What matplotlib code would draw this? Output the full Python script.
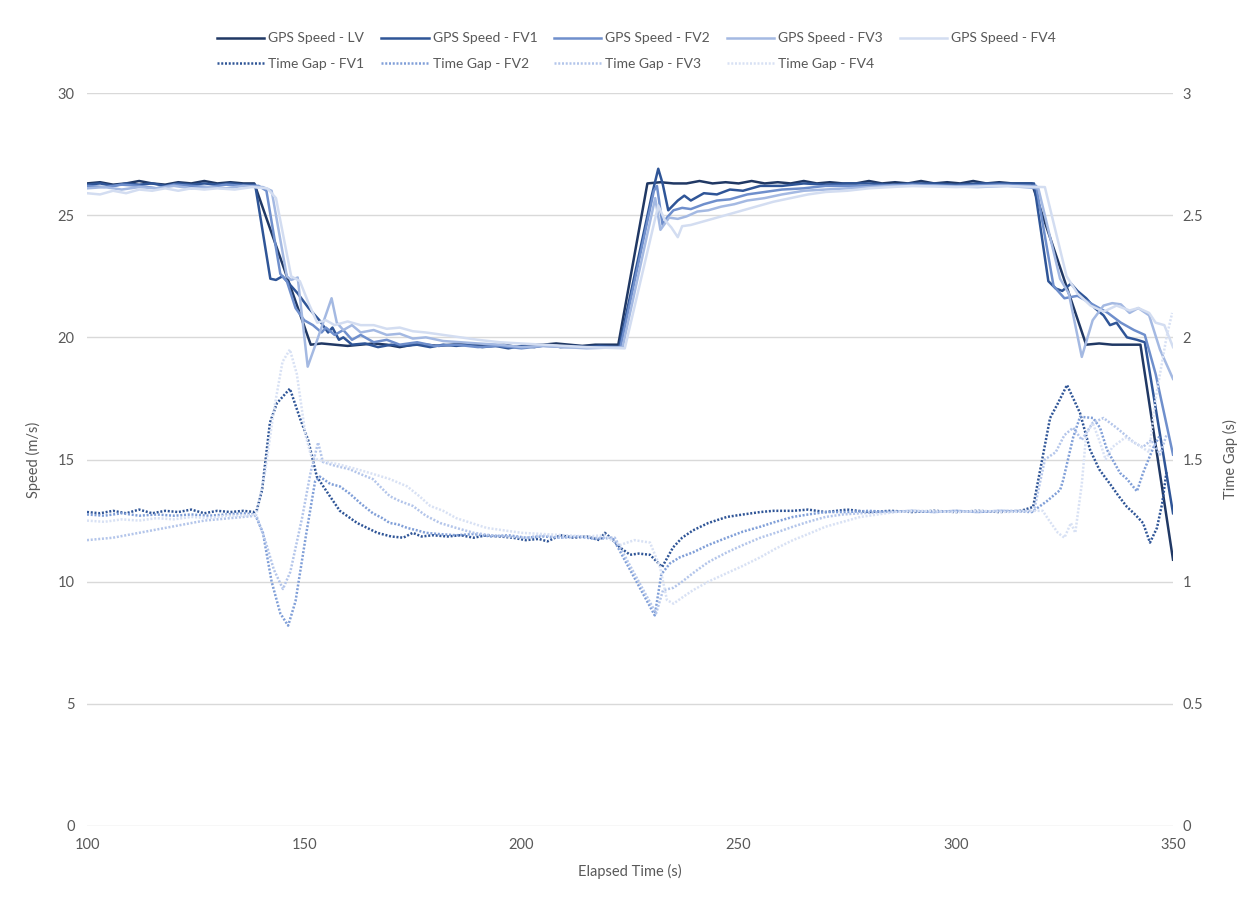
import matplotlib
matplotlib.use("Agg")
import matplotlib.pyplot as plt
from matplotlib.ticker import FuncFormatter, MultipleLocator

# Platoon run: GPS speed of the lead vehicle (LV) and four followers (FV1-FV4),
# plus the time gap each follower keeps to the vehicle ahead.
# Each series is a list of (elapsed time [s], value) samples.

speed_lv = [
    (100, 26.3), (103, 26.35), (106, 26.25), (109, 26.3), (112, 26.4), (115, 26.3), (118, 26.25),
    (121, 26.35), (124, 26.3), (127, 26.4), (130, 26.3), (133, 26.35), (136, 26.3), (138.5, 26.3),
    (151.5, 19.7), (154, 19.75), (157, 19.7), (160, 19.65), (163, 19.7), (166, 19.75), (169, 19.7),
    (172, 19.6), (175, 19.7), (178, 19.7), (181, 19.65), (184, 19.7), (187, 19.75), (190, 19.7),
    (193, 19.65), (196, 19.7), (199, 19.6), (202, 19.7), (205, 19.7), (208, 19.75), (211, 19.7),
    (214, 19.65), (217, 19.7), (220, 19.7), (222.3, 19.7), (229, 26.3), (232, 26.35), (235, 26.3),
    (238, 26.3), (241, 26.4), (244, 26.3), (247, 26.35), (250, 26.3), (253, 26.4), (256, 26.3),
    (259, 26.35), (262, 26.3), (265, 26.4), (268, 26.3), (271, 26.35), (274, 26.3), (277, 26.3),
    (280, 26.4), (283, 26.3), (286, 26.35), (289, 26.3), (292, 26.4), (295, 26.3), (298, 26.35),
    (301, 26.3), (304, 26.4), (307, 26.3), (310, 26.35), (313, 26.3), (316, 26.3), (317.5, 26.3),
    (330, 19.7), (333, 19.75), (336, 19.7), (339, 19.7), (342.5, 19.7), (350, 10.9),
]

speed_fv1 = [
    (100, 26.25), (103, 26.3), (106, 26.2), (109, 26.3), (112, 26.25), (115, 26.3), (118, 26.2),
    (121, 26.3), (124, 26.25), (127, 26.3), (130, 26.25), (133, 26.3), (136, 26.25), (138.7, 26.25),
    (142.2, 22.4), (143.5, 22.35), (145, 22.5), (148.5, 21.8), (151, 21.2), (153.5, 20.7),
    (155.5, 20.2), (156.5, 20.4), (158, 19.9), (159, 20.0), (161, 19.7), (164, 19.75), (167, 19.6),
    (170, 19.7), (173, 19.65), (176, 19.7), (179, 19.6), (182, 19.7), (185, 19.65), (188, 19.7),
    (191, 19.6), (194, 19.65), (197, 19.55), (200, 19.65), (203, 19.6), (206, 19.7), (209, 19.6),
    (212, 19.65), (215, 19.6), (218, 19.65), (222.5, 19.6), (230, 25.8), (231.5, 26.9),
    (232.5, 26.3), (233.8, 25.2), (236, 25.6), (237.5, 25.8), (239, 25.6), (242, 25.9),
    (245, 25.85), (248, 26.05), (251, 26.0), (255, 26.2), (260, 26.2), (265, 26.3), (270, 26.25),
    (275, 26.3), (280, 26.3), (285, 26.25), (290, 26.3), (295, 26.3), (300, 26.25), (305, 26.3),
    (310, 26.3), (315, 26.3), (318, 26.3), (321.3, 22.3), (323, 22.0), (324.5, 21.9),
    (326.5, 22.2), (328, 21.9), (330, 21.6), (332, 21.2), (334, 20.9), (335.5, 20.5), (337, 20.6),
    (339.4, 20.0), (341.7, 19.9), (343.5, 19.8), (350, 12.8),
]

speed_fv2 = [
    (100, 26.2), (104, 26.15), (108, 26.25), (112, 26.2), (116, 26.1), (120, 26.25), (124, 26.2),
    (128, 26.15), (132, 26.25), (136, 26.2), (139.5, 26.2), (141.3, 26.0), (144.5, 22.6),
    (146, 22.3), (148, 21.2), (150, 20.7), (152, 20.5), (154, 20.2), (155, 20.4), (157, 20.1),
    (159, 20.3), (161, 19.9), (163, 20.1), (166, 19.8), (169, 19.9), (172, 19.7), (176, 19.8),
    (180, 19.65), (185, 19.7), (190, 19.6), (195, 19.65), (200, 19.55), (205, 19.65), (210, 19.6),
    (215, 19.6), (222.8, 19.6), (230.5, 26.0), (231.2, 26.2), (232.5, 24.6), (233.5, 24.9),
    (235, 25.2), (237, 25.3), (239, 25.25), (242, 25.45), (245, 25.6), (248, 25.65), (252, 25.85),
    (256, 25.95), (260, 26.05), (265, 26.1), (270, 26.2), (275, 26.2), (280, 26.2), (290, 26.25),
    (300, 26.2), (310, 26.25), (318.5, 26.2), (322.5, 22.1), (325, 21.6), (328, 21.7),
    (331, 21.4), (333, 21.2), (335, 21.0), (338, 20.6), (341, 20.3), (343.5, 20.1), (346, 18.5),
    (350, 15.2),
]

speed_fv3 = [
    (100, 26.1), (104, 26.15), (108, 26.05), (112, 26.15), (116, 26.1), (120, 26.2), (124, 26.1),
    (128, 26.15), (132, 26.1), (136, 26.2), (140.5, 26.15), (142.5, 26.0), (146, 22.5),
    (147, 22.35), (148.5, 22.45), (150.8, 18.8), (153, 19.9), (156.3, 21.6), (157.5, 20.6),
    (159, 20.3), (161, 20.5), (163, 20.2), (166, 20.3), (169, 20.1), (172, 20.15), (175, 19.95),
    (178, 20.0), (182, 19.85), (186, 19.8), (190, 19.75), (195, 19.7), (200, 19.6), (205, 19.65),
    (210, 19.6), (215, 19.55), (223.3, 19.6), (230.8, 25.7), (232, 24.4), (234, 24.9),
    (236, 24.85), (238, 24.95), (240.5, 25.15), (243, 25.2), (246, 25.35), (249, 25.45),
    (252, 25.6), (256, 25.7), (260, 25.85), (265, 26.0), (270, 26.05), (275, 26.1), (280, 26.15),
    (285, 26.2), (295, 26.2), (305, 26.15), (312, 26.2), (319, 26.1), (324, 22.4), (326, 21.8),
    (329, 19.2), (331.5, 20.7), (334, 21.3), (336, 21.4), (338, 21.35), (340, 21.0), (342, 21.2),
    (344.5, 20.9), (347, 19.5), (350, 18.3),
]

speed_fv4 = [
    (100, 25.9), (103, 25.85), (106, 26.0), (109, 25.9), (112, 26.05), (115, 26.0), (118, 26.1),
    (121, 26.0), (124, 26.1), (127, 26.05), (130, 26.1), (134, 26.05), (138, 26.15), (141.5, 26.1),
    (143.5, 25.7), (147, 22.5), (149, 22.3), (151, 21.4), (153, 20.6), (155, 20.7), (157, 20.5),
    (160, 20.65), (163, 20.5), (166, 20.5), (169, 20.35), (172, 20.4), (175, 20.25), (178, 20.2),
    (182, 20.1), (186, 20.0), (190, 19.9), (195, 19.8), (200, 19.75), (205, 19.7), (210, 19.65),
    (215, 19.6), (223.8, 19.55), (231.5, 25.4), (233, 24.8), (234.5, 24.5), (236, 24.1),
    (237, 24.55), (239, 24.6), (242, 24.75), (246, 24.95), (250, 25.15), (254, 25.35),
    (258, 25.55), (262, 25.7), (266, 25.85), (270, 25.95), (275, 26.0), (280, 26.1), (285, 26.15),
    (290, 26.2), (300, 26.15), (310, 26.2), (320.5, 26.15), (325.5, 22.5), (328, 21.8),
    (331, 21.3), (334, 21.05), (337, 21.3), (340, 21.1), (342, 21.2), (344.5, 21.0), (346, 20.6),
    (348, 20.5), (350, 19.6),
]

gap_fv1 = [
    (100, 1.285), (103, 1.28), (106, 1.29), (109, 1.28), (112, 1.295), (115, 1.28), (118, 1.29),
    (121, 1.285), (124, 1.295), (127, 1.28), (130, 1.29), (133, 1.285), (136, 1.29),
    (138.5, 1.285), (139.1, 1.293), (140.3, 1.375), (142.1, 1.65), (143.7, 1.73), (146.7, 1.79),
    (149, 1.67), (150.9, 1.58), (152.9, 1.43), (155.9, 1.35), (158.2, 1.29), (162.2, 1.24),
    (166.8, 1.2), (170, 1.185), (172.8, 1.18), (175, 1.2), (177, 1.185), (179.6, 1.19),
    (183, 1.185), (186, 1.19), (189, 1.18), (192, 1.19), (195, 1.185), (198, 1.18), (201, 1.17),
    (204, 1.175), (206, 1.165), (209, 1.19), (212, 1.18), (215, 1.185), (218, 1.17), (219.2, 1.2),
    (220.5, 1.18), (222.7, 1.14), (225, 1.11), (227, 1.115), (229.6, 1.11), (232.4, 1.06),
    (234.9, 1.14), (237, 1.18), (239.5, 1.21), (243, 1.24), (247.3, 1.265), (251, 1.275),
    (255, 1.285), (258, 1.29), (262.5, 1.29), (266, 1.295), (270, 1.285), (275, 1.295),
    (280, 1.285), (285, 1.29), (290, 1.285), (295, 1.29), (300, 1.285), (305, 1.29), (310, 1.285),
    (315, 1.29), (317.8, 1.306), (321.7, 1.67), (323.5, 1.73), (325.6, 1.805), (328.6, 1.69),
    (330.9, 1.54), (333, 1.46), (335.5, 1.40), (337.5, 1.35), (339.4, 1.306), (341, 1.28),
    (343.1, 1.24), (344.7, 1.16), (346.3, 1.22), (347.5, 1.32), (348.5, 1.45),
]

gap_fv2 = [
    (100, 1.275), (104, 1.27), (108, 1.28), (112, 1.27), (116, 1.275), (120, 1.27), (124, 1.275),
    (128, 1.27), (132, 1.275), (136, 1.28), (138.7, 1.275), (140.5, 1.2), (142.5, 1.0),
    (144.5, 0.87), (146.3, 0.82), (148, 0.92), (150.5, 1.2), (152.5, 1.41), (153.6, 1.43),
    (156, 1.40), (158.2, 1.39), (160.5, 1.36), (163, 1.32), (165.8, 1.28), (168, 1.26),
    (169.7, 1.24), (171.5, 1.235), (173.7, 1.22), (176, 1.21), (178, 1.2), (181, 1.195),
    (185, 1.19), (189, 1.195), (193, 1.185), (197, 1.19), (201, 1.18), (205, 1.185), (209, 1.18),
    (213, 1.185), (217, 1.175), (221, 1.18), (230.7, 0.862), (232.2, 1.03), (234.2, 1.075),
    (236.5, 1.1), (239.5, 1.12), (243, 1.15), (247.3, 1.18), (251, 1.205), (255, 1.225),
    (258.5, 1.245), (262.5, 1.265), (266, 1.275), (270, 1.285), (275, 1.285), (280, 1.29),
    (285, 1.285), (290, 1.29), (295, 1.285), (300, 1.29), (305, 1.285), (310, 1.29),
    (317.5, 1.285), (321, 1.33), (324, 1.375), (324.7, 1.415), (327, 1.59), (328.6, 1.675),
    (331.6, 1.67), (333.2, 1.63), (334.8, 1.54), (337.8, 1.445), (339.4, 1.42), (341.7, 1.37),
    (343.1, 1.445), (345.5, 1.55), (347, 1.6),
]

gap_fv3 = [
    (100, 1.17), (103, 1.175), (106, 1.18), (109, 1.19), (112, 1.2), (115, 1.21), (118, 1.22),
    (121, 1.23), (124, 1.24), (127, 1.25), (130, 1.255), (133, 1.26), (136, 1.265), (139, 1.27),
    (141, 1.17), (143, 1.05), (145.1, 0.97), (146.8, 1.04), (149.5, 1.26), (151.5, 1.45),
    (153.2, 1.57), (154.3, 1.49), (157, 1.475), (160.5, 1.46), (163, 1.44), (165.8, 1.42),
    (168, 1.38), (169.7, 1.35), (172, 1.33), (175, 1.31), (178, 1.27), (181.3, 1.24), (185, 1.22),
    (189, 1.2), (193, 1.19), (197, 1.185), (201, 1.18), (205, 1.19), (209, 1.18), (213, 1.185),
    (217, 1.18), (221.5, 1.18), (231, 0.87), (232.6, 0.965), (235, 0.975), (237, 1.0),
    (239.5, 1.035), (243, 1.08), (247.3, 1.12), (251, 1.15), (255, 1.18), (258.5, 1.2),
    (262.5, 1.225), (266, 1.245), (270, 1.265), (274, 1.275), (278, 1.28), (283, 1.285),
    (290, 1.29), (295, 1.285), (300, 1.29), (305, 1.285), (310, 1.29), (318, 1.29), (320.5, 1.5),
    (323, 1.53), (325, 1.6), (327, 1.63), (329, 1.58), (331.5, 1.65), (334, 1.67), (337, 1.63),
    (339, 1.6), (341, 1.57), (343, 1.55), (345, 1.58), (347, 1.52), (348.5, 1.6),
]

gap_fv4 = [
    (100, 1.25), (104, 1.245), (108, 1.255), (112, 1.25), (116, 1.26), (120, 1.255), (124, 1.265),
    (128, 1.26), (132, 1.27), (136, 1.27), (139, 1.275), (141, 1.45), (143, 1.7), (145, 1.9),
    (146.7, 1.95), (148.3, 1.85), (150.3, 1.6), (151.5, 1.52), (153, 1.5), (155.2, 1.49),
    (158, 1.48), (162.2, 1.46), (166, 1.44), (169.7, 1.42), (173.7, 1.39), (176.5, 1.35),
    (179, 1.31), (182, 1.29), (185, 1.26), (188.5, 1.24), (192, 1.22), (196, 1.21), (200, 1.2),
    (205, 1.195), (210, 1.19), (215, 1.185), (219, 1.19), (222.7, 1.15), (226, 1.17),
    (229.6, 1.16), (231.9, 1.06), (233.5, 0.925), (235, 0.91), (237, 0.935), (239.5, 0.965),
    (243, 1.0), (247.3, 1.035), (251, 1.065), (255, 1.1), (258.5, 1.135), (262.5, 1.17),
    (266, 1.195), (270, 1.225), (274, 1.245), (278, 1.265), (282, 1.275), (286, 1.285),
    (292, 1.29), (300, 1.285), (306, 1.29), (312, 1.285), (318, 1.29), (320, 1.29), (321.5, 1.25),
    (323.5, 1.2), (325, 1.18), (326.5, 1.24), (327.5, 1.2), (329, 1.4), (330, 1.6), (331.5, 1.65),
    (333, 1.58), (334.5, 1.5), (336, 1.55), (339, 1.59), (342, 1.56), (344.5, 1.53), (346, 1.75),
    (348.5, 2.0), (349.8, 2.1),
]

speed_series = [
    ("GPS Speed - LV", speed_lv, "#203864"),
    ("GPS Speed - FV1", speed_fv1, "#2f5597"),
    ("GPS Speed - FV2", speed_fv2, "#6f8fcc"),
    ("GPS Speed - FV3", speed_fv3, "#a4b9e2"),
    ("GPS Speed - FV4", speed_fv4, "#d3ddf1"),
]
gap_series = [
    ("Time Gap - FV1", gap_fv1, "#2f5597"),
    ("Time Gap - FV2", gap_fv2, "#809fd8"),
    ("Time Gap - FV3", gap_fv3, "#b3c5ea"),
    ("Time Gap - FV4", gap_fv4, "#d8e1f4"),
]

text_col = "#595959"
grid_col = "#d9d9d9"
plt.rcParams["font.family"] = ["Lato", "DejaVu Sans"]

fig = plt.figure(figsize=(12.43, 9.05), dpi=100)
ax = fig.add_axes([0.070, 0.0873, 0.8737, 0.8099])
ax2 = ax.twinx()

speed_handles = []
for name, data, col in speed_series:
    t, v = zip(*data)
    h, = ax.plot(t, v, color=col, lw=1.8, label=name, solid_joinstyle="round")
    speed_handles.append(h)

gap_handles = []
for name, data, col in gap_series:
    t, v = zip(*data)
    h, = ax2.plot(t, v, color=col, lw=1.8, ls=(0, (0.8, 0.7)), label=name)
    gap_handles.append(h)

ax.set_xlim(100, 350)
ax.set_ylim(0, 30)
ax2.set_ylim(0, 3)
ax.xaxis.set_major_locator(MultipleLocator(50))
ax.yaxis.set_major_locator(MultipleLocator(5))
ax2.yaxis.set_major_locator(MultipleLocator(0.5))
ax2.yaxis.set_major_formatter(FuncFormatter(lambda v, p: "%g" % v))

ax.grid(axis="y", color=grid_col, lw=1.0)
ax.set_axisbelow(True)
for a in (ax, ax2):
    for s in a.spines.values():
        s.set_visible(False)
    a.tick_params(length=0, labelsize=10.5, labelcolor=text_col)
ax.tick_params(axis="x", pad=9)
ax.tick_params(axis="y", pad=9)
ax2.tick_params(axis="y", pad=7)

ax.set_xlabel("Elapsed Time (s)", fontsize=10.5, color=text_col, labelpad=8)
ax.set_ylabel("Speed (m/s)", fontsize=10.5, color=text_col, labelpad=12)
ax2.set_ylabel("Time Gap (s)", fontsize=10.5, color=text_col, rotation=90, labelpad=14)

# legend: speeds on the first row, time gaps on the second
order = []
for i in range(5):
    order.append(speed_handles[i])
    if i < 4:
        order.append(gap_handles[i])
fig.legend(order, [h.get_label() for h in order], ncol=5, loc="upper center",
           bbox_to_anchor=(0.512, 0.978), frameon=False, fontsize=10,
           handlelength=3.4, handletextpad=0.3, columnspacing=1.2,
           labelspacing=0.95, labelcolor=text_col)

fig.savefig("out.png", dpi=100, facecolor="white")
